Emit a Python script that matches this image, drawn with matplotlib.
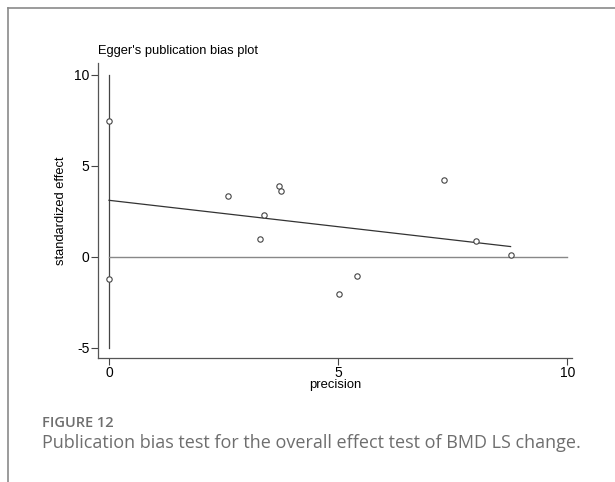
import numpy as np
import matplotlib.pyplot as plt
from matplotlib.lines import Line2D

plt.rcParams["font.family"] = ["Liberation Sans", "DejaVu Sans"]
plt.rcParams["axes.unicode_minus"] = False

# study points: precision vs standardized effect
precision = [0.0, 0.0, 2.60, 3.29, 3.39, 3.71, 3.75, 5.01, 5.41, 7.31, 8.01, 8.76]
std_effect = [7.45, -1.2, 3.35, 0.99, 2.32, 3.92, 3.61, -2.02, -1.06, 4.25, 0.86, 0.13]

# Egger regression line (intercept, end)
reg_x = [0.0, 8.76]
reg_y = [3.11, 0.57]

xticks = [0, 5, 10]
yticks = [-5, 0, 5, 10]

W, H = 615, 482
fig = plt.figure(figsize=(W / 100, H / 100), dpi=100)

# outer panel frame (left and top edges)
fig.add_artist(Line2D([7.5 / W, 7.5 / W], [0, 1 - 8 / H], color="#8a8a8a", lw=1.2))
fig.add_artist(Line2D([7.5 / W, 1.0], [1 - 8 / H, 1 - 8 / H], color="#8a8a8a", lw=1.2))

ax = fig.add_axes([98 / W, 1 - 358 / H, (572 - 98) / W, (358 - 63) / H])

ax.plot([0, 0], [-5, 10], color="#444444", lw=0.9)
ax.plot([0, 10], [0, 0], color="#888888", lw=1.0)
ax.plot(reg_x, reg_y, color="#333333", lw=0.9)
ax.scatter(precision, std_effect, s=15, facecolors="white", edgecolors="#444444",
           linewidths=0.8, zorder=3)

ax.set_xlim(-0.24, 10.1)
ax.set_ylim(-5.55, 10.65)
ax.set_xticks(xticks)
ax.set_yticks(yticks)
ax.tick_params(direction="out", length=5, width=0.8, color="#444444", labelsize=10, pad=1)
for s in ["top", "right"]:
    ax.spines[s].set_visible(False)
for s in ["left", "bottom"]:
    ax.spines[s].set_color("#555555")
    ax.spines[s].set_linewidth(0.9)

ax.set_xlabel("precision", fontsize=9.4, labelpad=-1)
ax.set_ylabel("standardized effect", fontsize=9.3, labelpad=5)

fig.text(98 / W, 1 - 51 / H, "Egger's publication bias plot", fontsize=9.3, va="center", ha="left")

fig.text(42 / W, 1 - 423 / H, "FIGURE 12", fontsize=10.5, color="#6e6e6e",
         family="Open Sans", weight="semibold", va="center")
fig.text(42 / W, 1 - 443 / H, "Publication bias test for the overall effect test of BMD LS change.",
         fontsize=13, color="#6e6e6e", family="Open Sans", va="center")

fig.savefig("out.png", dpi=100)
